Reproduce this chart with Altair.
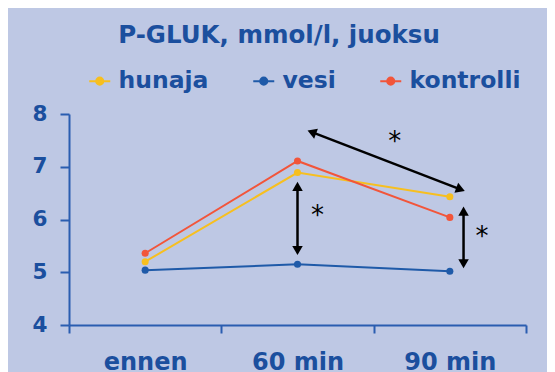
import altair as alt
import pandas as pd

categories = ["ennen", "60 min", "90 min"]
series = ["hunaja", "vesi", "kontrolli"]
hunaja = [5.20, 6.89, 6.43]
vesi = [5.04, 5.15, 5.02]
kontrolli = [5.36, 7.11, 6.04]
colors = ["#f7bf1f", "#1f5aa8", "#f2553a"]
y_ticks = [4, 5, 6, 7, 8]

# annotation arrows, x in band units (0..3 across the three categories)
head_x = [1.603, 2.561, 1.5, 1.5, 2.59, 2.59]
head_y = [7.646, 6.581, 6.60, 5.44, 6.13, 5.19]
head_angle = [291, 111, 0, 180, 0, 180]
star_x = [2.138, 1.632, 2.711]
star_y = [7.47, 6.057, 5.66]

TXT = "#1b4f9e"
AX = "#2a5db0"
FONT = "DejaVu Sans"

rows = []
for s, vals in zip(series, [hunaja, vesi, kontrolli]):
    for c, v in zip(categories, vals):
        rows.append({"aika": c, "sarja": s, "arvo": v})
df = pd.DataFrame(rows)

rules = pd.DataFrame({
    "x": head_x[0::2], "y": head_y[0::2],
    "x2": head_x[1::2], "y2": head_y[1::2],
})
heads = pd.DataFrame({"x": head_x, "y": head_y, "a": head_angle})
stars = pd.DataFrame({"x": star_x, "y": star_y, "t": ["*"] * 3})

yscale = alt.Scale(domain=[4, 8], nice=False, zero=False)
xq = alt.Scale(domain=[0, 3], nice=False, zero=False)

sym = "M-1,0L1,0M-0.34,0A0.34,0.34,0,1,0,0.34,0A0.34,0.34,0,1,0,-0.34,0Z"
leg = alt.Legend(
    title=None, orient="none", direction="horizontal", legendX=19, legendY=-45,
    labelFont=FONT, labelFontSize=23.5, labelFontWeight="bold", labelColor=TXT,
    symbolType=sym, symbolSize=441, symbolStrokeWidth=2, labelOffset=7,
    columnPadding=40, padding=0,
)
cscale = alt.Scale(domain=series, range=colors)

xaxis = alt.Axis(
    title=None, labelAngle=0, tickBand="extent", labelFont=FONT, labelFontSize=24,
    labelFontWeight="bold", labelColor=TXT, domainColor=AX, tickColor=AX,
    domainWidth=2, tickWidth=2, tickSize=8, labelPadding=17, grid=False,
)
yaxis = alt.Axis(
    title=None, values=y_ticks, labelFont=FONT, labelFontSize=21.5, labelFontWeight="bold",
    labelColor=TXT, domainColor=AX, tickColor=AX, domainWidth=2, tickWidth=2,
    tickSize=9, labelPadding=13, grid=False,
)

xband = alt.X("aika:N", sort=categories, scale=alt.Scale(type="band", paddingInner=0, paddingOuter=0), axis=xaxis)

lines = alt.Chart(df).mark_line(strokeWidth=2).encode(
    x=xband,
    y=alt.Y("arvo:Q", scale=yscale, axis=yaxis),
    stroke=alt.Stroke("sarja:N", sort=series, scale=cscale, legend=leg),
)
points = alt.Chart(df).mark_point(filled=True, size=50, opacity=1).encode(
    x=xband,
    y=alt.Y("arvo:Q", scale=yscale, axis=yaxis),
    fill=alt.Fill("sarja:N", sort=series, scale=cscale, legend=leg),
)
main = alt.layer(lines, points)

arrows = alt.Chart(rules).mark_rule(color="black", strokeWidth=2.5).encode(
    x=alt.X("x:Q", scale=xq, axis=None), x2="x2:Q",
    y=alt.Y("y:Q", scale=yscale, axis=yaxis), y2="y2:Q",
)
ahead = alt.Chart(heads).mark_point(shape="triangle", filled=True, color="black", size=110, opacity=1).encode(
    x=alt.X("x:Q", scale=xq, axis=None),
    y=alt.Y("y:Q", scale=yscale, axis=yaxis),
    angle=alt.Angle("a:Q", scale=None),
)
atext = alt.Chart(stars).mark_text(font=FONT, fontSize=26, color="black", dy=0).encode(
    x=alt.X("x:Q", scale=xq, axis=None),
    y=alt.Y("y:Q", scale=yscale, axis=yaxis),
    text="t:N",
)
annot = alt.layer(arrows, ahead, atext)

chart = alt.layer(main, annot).resolve_scale(x="independent").resolve_axis(x="independent").properties(
    width=457, height=211,
    padding={"left": 61, "top": 106, "right": 21, "bottom": 47},
    autosize=alt.AutoSizeParams(type="none"),
    background="#bec8e4",
    title=alt.TitleParams(
        "P-GLUK, mmol/l, juoksu", font=FONT, fontSize=24.5, fontWeight="bold", color=TXT,
        anchor="middle", frame="group", dx=-18.5, offset=21,
    ),
).configure_view(stroke=None)

chart.save("out.html", embed_options={"renderer": "svg", "actions": False})
